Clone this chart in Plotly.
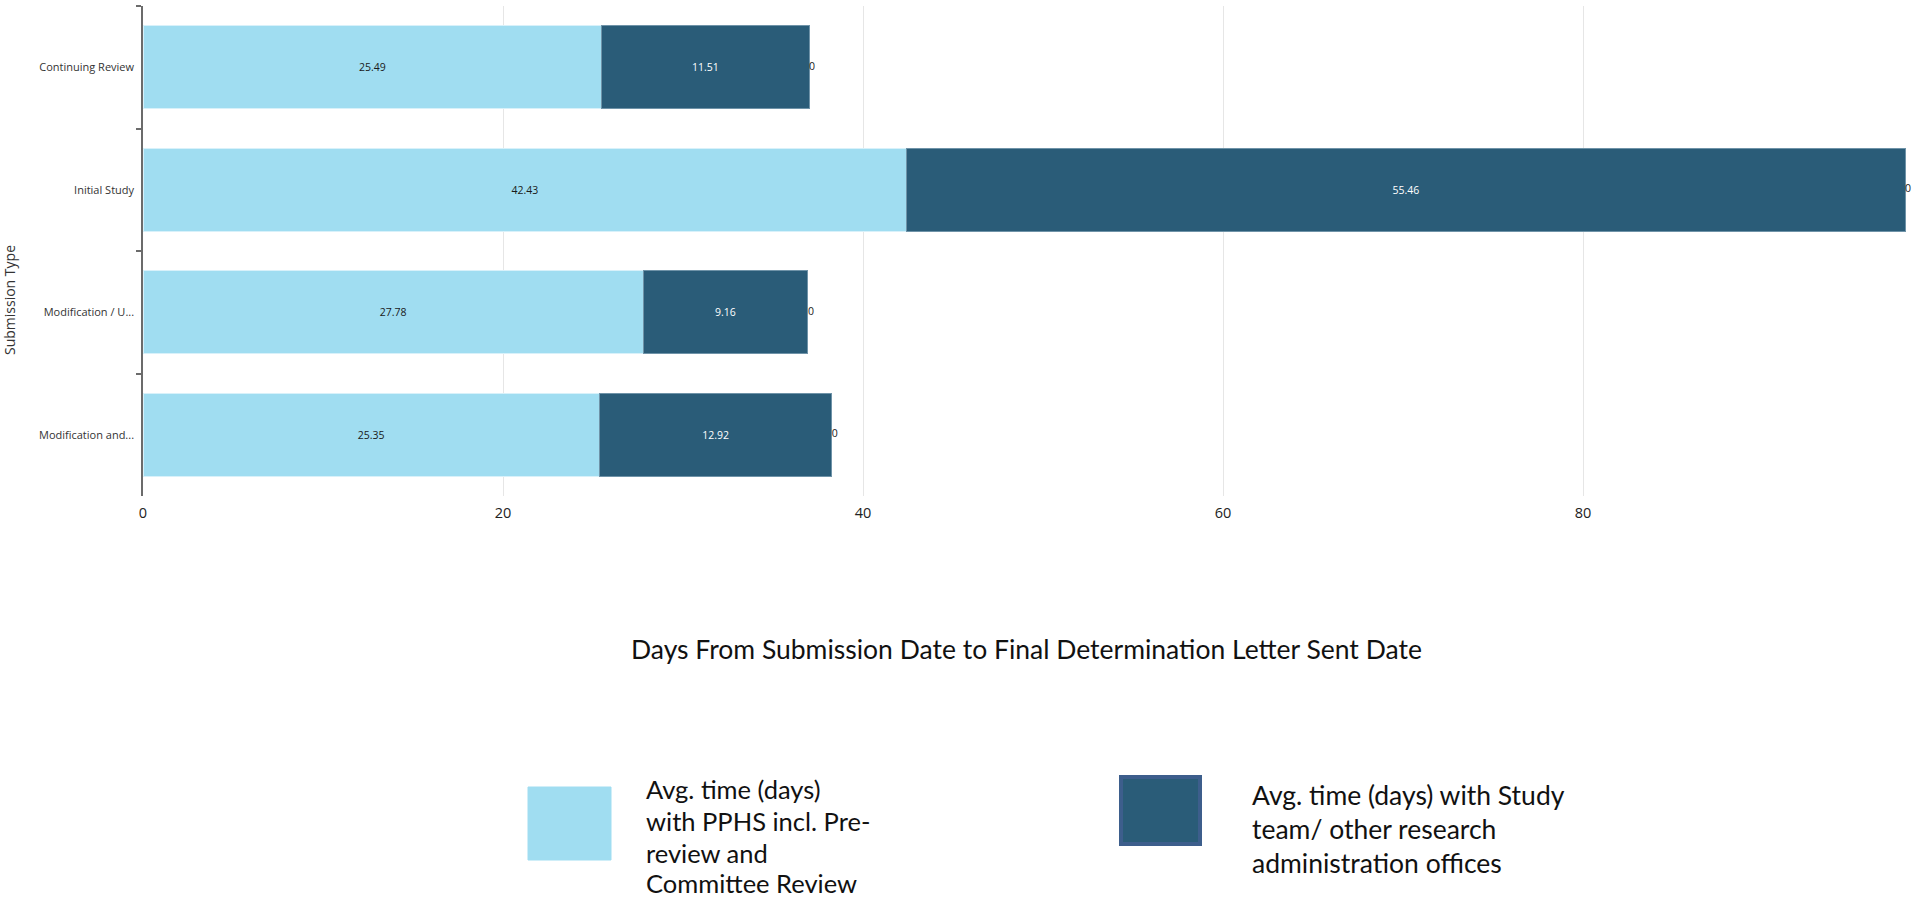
import plotly.graph_objects as go

# Submission types (top to bottom) and the two stacked durations, in days
categories = ["Continuing Review", "Initial Study", "Modification / U...", "Modification and..."]
pphs_days = [25.49, 42.43, 27.78, 25.35]
study_team_days = [11.51, 55.46, 9.16, 12.92]
other_days = [0, 0, 0, 0]

legend_lines_pphs = ["Avg. time (days)", "with PPHS incl. Pre-", "review and", "Committee Review"]
legend_lines_study = ["Avg. time (days) with Study", "team/ other research", "administration offices"]
x_ticks = [0, 20, 40, 60, 80]

LIGHT = "#A0DDF1"
DARK = "#2A5C78"
DARK_EDGE = "#3D5E8C"

W, H = 1920, 899
M_L, M_R, M_T, M_B = 143, 8, 6, 403
PW = W - M_L - M_R
PH = H - M_T - M_B


def px_x(px):
    return (px - M_L) / PW


def px_y(py):
    return (H - M_B - py) / PH


fig = go.Figure()

fig.add_trace(go.Bar(
    y=categories, x=pphs_days, orientation="h", name=" ".join(legend_lines_pphs),
    marker=dict(color=LIGHT, line=dict(color="#d8f1fa", width=1)),
    width=0.68,
    text=[f"{v:.2f}" for v in pphs_days], textposition="inside",
    insidetextanchor="middle", textangle=0,
    textfont=dict(family="Open Sans", size=10.5, color="#1a1a1a"),
    showlegend=False,
))
fig.add_trace(go.Bar(
    y=categories, x=study_team_days, orientation="h", name=" ".join(legend_lines_study),
    marker=dict(color=DARK, line=dict(color="#6f93a8", width=1)),
    width=0.68,
    text=[f"{v:.2f}" for v in study_team_days], textposition="inside",
    insidetextanchor="middle", textangle=0,
    textfont=dict(family="Open Sans", size=10.5, color="white"),
    showlegend=False,
))

# Third (empty) segment: its value is printed just past the end of each stack
totals = [a + b + c for a, b, c in zip(pphs_days, study_team_days, other_days)]
fig.add_trace(go.Scatter(
    y=categories, x=totals, mode="text",
    text=[str(v) for v in other_days], textposition="middle right",
    textfont=dict(family="Open Sans", size=10.5, color="#1a1a1a"),
    cliponaxis=False, showlegend=False, hoverinfo="skip",
))

fig.update_layout(
    width=W, height=H,
    margin=dict(l=M_L, r=M_R, t=M_T, b=M_B),
    barmode="stack",
    plot_bgcolor="white", paper_bgcolor="white",
    xaxis=dict(
        range=[0, PW / 18.0], tickvals=x_ticks, showgrid=True,
        gridcolor="#e6e6e6", gridwidth=1, zeroline=False, showline=False,
        ticks="", tickfont=dict(family="Open Sans", size=14.5, color="#222"),
        ticklabelstandoff=6,
    ),
    yaxis=dict(
        categoryorder="array", categoryarray=categories,
        range=[len(categories) - 0.5, -0.5],
        showline=True, linecolor="#6b6b6b", linewidth=1.5,
        ticks="outside", tickson="boundaries", ticklen=5, tickcolor="#6b6b6b",
        tickwidth=1.5, showgrid=False, zeroline=False,
        tickfont=dict(family="Open Sans", size=11, color="#333"),
        ticklabelstandoff=5,
    ),
    font=dict(family="Open Sans"),
)

annotations = [
    dict(text="Submission Type", x=px_x(9), y=px_y(300), textangle=-90,
         font=dict(family="Open Sans", size=14, color="#333")),
    dict(text="Days From Submission Date to Final Determination Letter Sent Date",
         x=px_x(1026), y=px_y(649),
         font=dict(family="Lato", size=26.5, color="#111")),
]
# Legend text, one annotation per line for tighter line spacing
for line, cy in zip(legend_lines_pphs, [789, 821, 853, 883]):
    annotations.append(dict(text=line, x=px_x(644), y=px_y(cy), xanchor="left",
                            font=dict(family="Lato", size=25.5, color="#111")))
for line, cy in zip(legend_lines_study, [795, 829, 863]):
    annotations.append(dict(text=line, x=px_x(1250), y=px_y(cy), xanchor="left",
                            font=dict(family="Lato", size=26.5, color="#111")))
for a in annotations:
    a.setdefault("xanchor", "center")
    a.setdefault("yanchor", "middle")
    a.update(xref="paper", yref="paper", showarrow=False)
fig.update_layout(annotations=annotations)

fig.update_layout(shapes=[
    dict(type="rect", xref="paper", yref="paper",
         x0=px_x(528), x1=px_x(611), y0=px_y(860), y1=px_y(787),
         fillcolor=LIGHT, line=dict(color=LIGHT, width=1)),
    dict(type="rect", xref="paper", yref="paper",
         x0=px_x(1121), x1=px_x(1200), y0=px_y(844), y1=px_y(777),
         fillcolor=DARK, line=dict(color=DARK_EDGE, width=4)),
])

fig.write_html("out.html")
